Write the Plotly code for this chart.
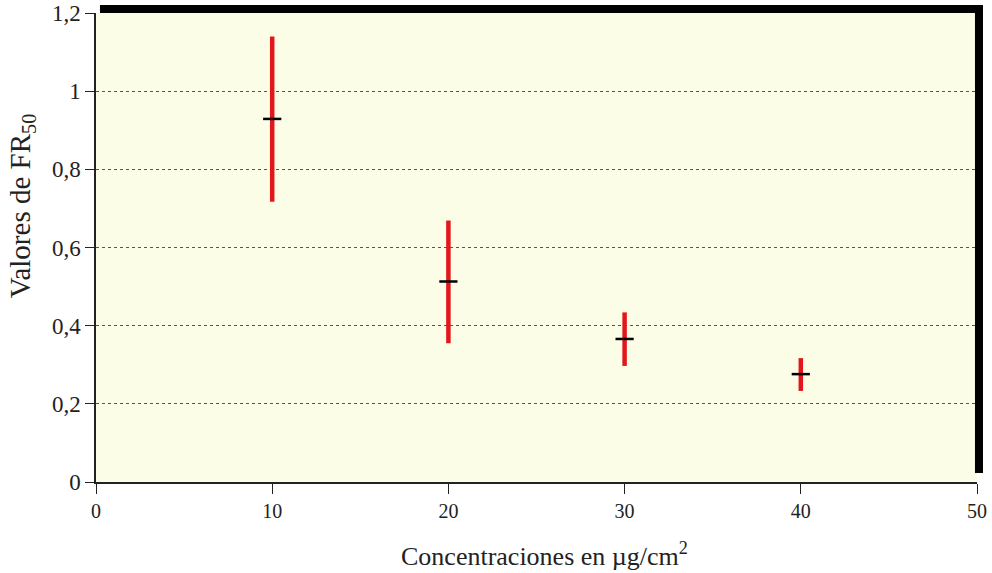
import plotly.graph_objects as go

concentraciones = [10, 20, 30, 40]
fr50_media = [0.929, 0.513, 0.366, 0.276]
fr50_max = [1.14, 0.669, 0.434, 0.317]
fr50_min = [0.717, 0.355, 0.297, 0.233]

err_plus = [h - m for h, m in zip(fr50_max, fr50_media)]
err_minus = [m - l for m, l in zip(fr50_media, fr50_min)]

fig = go.Figure()
fig.add_trace(go.Scatter(
    x=concentraciones, y=fr50_media, mode="markers",
    marker=dict(symbol="line-ew", size=13, color="black",
                line=dict(color="black", width=2.5)),
    error_y=dict(type="data", symmetric=False, array=err_plus,
                 arrayminus=err_minus, width=0, thickness=4.5,
                 color="#e3171b"),
    showlegend=False, hoverinfo="x+y"))

serif = "Liberation Serif, Times New Roman, serif"

fig.update_layout(
    width=992, height=573,
    margin=dict(l=96, r=15, t=13, b=91),
    paper_bgcolor="white",
    plot_bgcolor="#fcfde7",
    separators=", ",
    font=dict(family=serif, size=20, color="#222"),
    xaxis=dict(range=[0, 50], tickvals=[0, 10, 20, 30, 40, 50],
               showgrid=False, zeroline=False, automargin=False,
               showline=True, linecolor="#222", linewidth=1.5,
               ticks="outside", ticklen=10, tickwidth=1.2, tickcolor="#222",
               tickfont=dict(family=serif, size=20)),
    yaxis=dict(range=[0, 1.2], tickvals=[0, 0.2, 0.4, 0.6, 0.8, 1, 1.2],
               showgrid=True, gridcolor="#555", griddash="dot", gridwidth=1,
               zeroline=False, automargin=False,
               showline=True, linecolor="#222", linewidth=1.5,
               ticks="outside", ticklen=9, tickwidth=1.2, tickcolor="#222",
               tickfont=dict(family=serif, size=23)),
    annotations=[
        dict(text="Concentraciones en µg/cm<sup>2</sup>", xref="paper", yref="paper",
             x=0.5096, y=-0.155, xanchor="center", yanchor="middle",
             showarrow=False, font=dict(family=serif, size=26, color="#222")),
        dict(text="Valores de FR<sub>50</sub>", xref="paper", yref="paper",
             x=-0.084, y=0.59, xanchor="center", yanchor="middle", textangle=-90,
             showarrow=False, font=dict(family=serif, size=29, color="#222")),
    ],
    shapes=[
        dict(type="rect", xref="paper", yref="paper",
             x0=0.0045, x1=1.0068, y0=1.0, y1=1.017,
             fillcolor="black", line=dict(width=0), layer="above"),
        dict(type="rect", xref="paper", yref="paper",
             x0=0.9977, x1=1.0068, y0=0.019, y1=1.017,
             fillcolor="black", line=dict(width=0), layer="above"),
    ],
)

fig.write_html(
    "out.html",
    config={"displayModeBar": False},
    post_script="document.body.style.margin='0px';document.body.style.overflow='hidden';",
)
